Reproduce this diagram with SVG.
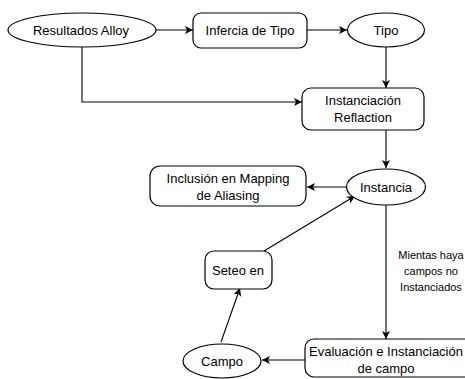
<svg xmlns="http://www.w3.org/2000/svg" width="465" height="379" viewBox="0 0 465 379">
<style>
.n{fill:#fff;stroke:#000;stroke-width:1.2}
.t{font-family:"Liberation Sans",Arial,sans-serif;font-size:13px;fill:#000;text-anchor:middle}
.s{font-family:"Liberation Sans",Arial,sans-serif;font-size:11px;fill:#000;text-anchor:middle}
.c{fill:none;stroke:#000;stroke-width:1.1;marker-end:url(#ah)}
</style>
<defs>
<marker id="ah" markerWidth="9" markerHeight="9" refX="8" refY="4.5" orient="auto" markerUnits="userSpaceOnUse">
<path d="M0,0.5 L8,4.5 L0,8.5 L2,4.5 z" fill="#000"/>
</marker>
</defs>
<rect width="465" height="379" fill="#fff"/>
<g id="connectors">
<path class="c" d="M155,30 L193,30"/>
<path class="c" d="M307,30 L347,30"/>
<path class="c" d="M386,47 L386,88"/>
<path class="c" d="M82,47 L82,102 L302,102"/>
<path class="c" d="M386,130 L386,168"/>
<path class="c" d="M346,187 L307,187"/>
<path class="c" d="M386,205 L386,339"/>
<path class="c" d="M305,360 L262,360"/>
<path class="c" d="M221,342 L240,288"/>
<path class="c" d="M264,251 L355,196"/>
<text class="s" x="431" y="259">Mientas haya</text>
<text class="s" x="431" y="275">campos no</text>
<text class="s" x="431" y="291">Instanciados</text>
</g>
<g id="resultados">
<ellipse class="n" cx="82" cy="30" rx="74" ry="17"/>
<text class="t" x="81" y="35">Resultados Alloy</text>
</g>
<g id="inferencia">
<rect class="n" x="193" y="13" width="114" height="35" rx="8"/>
<text class="t" x="250" y="35">Infercia de Tipo</text>
</g>
<g id="tipo">
<ellipse class="n" cx="386" cy="30" rx="38.5" ry="17"/>
<text class="t" x="386" y="35">Tipo</text>
</g>
<g id="instanciacion">
<rect class="n" x="302" y="88" width="122" height="42" rx="9"/>
<text class="t" x="363" y="105">Instanciación</text>
<text class="t" x="363" y="122">Reflaction</text>
</g>
<g id="instancia">
<ellipse class="n" cx="386" cy="187" rx="39.5" ry="18"/>
<text class="t" x="386" y="192">Instancia</text>
</g>
<g id="inclusion">
<rect class="n" x="150" y="166" width="156" height="40" rx="10"/>
<text class="t" x="228" y="183">Inclusión en Mapping</text>
<text class="t" x="228" y="200">de Aliasing</text>
</g>
<g id="seteo">
<rect class="n" x="205" y="251" width="67" height="38" rx="9"/>
<text class="t" x="238" y="275">Seteo en</text>
</g>
<g id="evaluacion">
<rect class="n" x="305" y="339" width="170" height="38" rx="9"/>
<text class="t" x="386" y="356">Evaluación e Instanciación</text>
<text class="t" x="386" y="373">de campo</text>
</g>
<g id="campo">
<ellipse class="n" cx="222" cy="361" rx="39" ry="17"/>
<text class="t" x="222" y="366">Campo</text>
</g>
</svg>
